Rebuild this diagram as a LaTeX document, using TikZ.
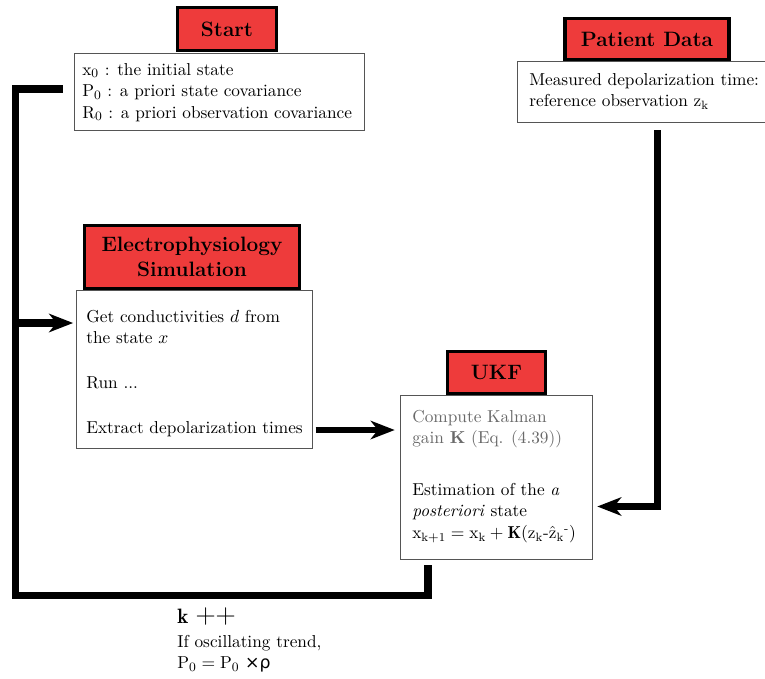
\documentclass[tikz,border=0pt]{standalone}
\usepackage{amsmath}
\usepackage{fontspec}
\newfontfamily\dejavu{DejaVu Sans}
\usetikzlibrary{arrows.meta,fit,calc}
\definecolor{boxred}{RGB}{238,59,59}
\definecolor{boxline}{RGB}{85,85,85}
\definecolor{kalgray}{RGB}{105,105,105}
\begin{document}
\begin{tikzpicture}[x=0.625pt,y=-0.625pt,
  redbox/.style={draw=black,line width=1.9pt,fill=boxred,inner sep=0pt},
  titletext/.style={inner sep=0pt,anchor=center,align=center,
    font=\fontsize{13pt}{15.6pt}\selectfont\bfseries},
  infobox/.style={draw=boxline,line width=0.6pt,fill=white,inner sep=0pt},
  bodytext/.style={inner sep=0pt,anchor=north west,align=left,
    font=\fontsize{10.8pt}{13.4pt}\selectfont},
  flow/.style={line width=4.4pt,line join=miter},
  flowarrow/.style={flow,-{Stealth[length=15pt,width=11.5pt,inset=4.5pt]}},
  ]
\useasboundingbox (0,0) rectangle (765,678);

% Start
\node[infobox,fit={(74,53)(364,130)}] (startinfo) {};
\node[redbox,fit={(177.5,7.5)(276.5,50.5)}] (start) {};
\node[titletext] (startlabel) at (start.center) {Start};
\node[bodytext] (starttext) at (82,63)
  {$\mathrm{x}_0$ : the initial state\\
   $\mathrm{P}_0$ : a priori state covariance\\
   $\mathrm{R}_0$ : a priori observation covariance};

% Patient data
\node[infobox,fit={(517,61)(772,122)}] (patinfo) {};
\node[redbox,fit={(565,18.5)(729,59.5)}] (patient) {};
\node[titletext] (patientlabel) at (patient.center) {Patient Data};
\node[bodytext] (pattext) at (529,73)
  {Measured depolarization time:\\
   reference observation $\mathrm{z}_\mathrm{k}$};

% Electrophysiology simulation
\node[infobox,fit={(76,290)(312,448)}] (elinfo) {};
\node[redbox,fit={(84.5,225.5)(299.5,288.5)}] (elsim) {};
\node[titletext] (elsimlabel) at (elsim.center) {Electrophysiology\\Simulation};
\node[bodytext] (eltext) at (86,310)
  {Get conductivities $d$ from\\
   the state $x$\\[14.5pt]
   Run ...\\[14.5pt]
   Extract depolarization times};

% UKF
\node[infobox,fit={(400,395)(592,559)}] (ukfinfo) {};
\node[redbox,fit={(447.5,351.5)(545.5,393.5)}] (ukf) {};
\node[titletext] (ukflabel) at (ukf.center) {UKF};
\node[bodytext,text=kalgray] (ukftext1) at (412,410)
  {Compute Kalman\\
   gain \textbf{K} (Eq. (4.39))};
\node[bodytext] (ukftext2) at (412,483)
  {Estimation of the \textit{a}\\
   \textit{posteriori} state\\
   $\mathrm{x}_{\mathrm{k+1}} = \mathrm{x}_\mathrm{k} + \mathbf{K}(\mathrm{z}_\mathrm{k}\text{-}\hat{\mathrm{z}}_\mathrm{k}{}^{\text{-}})$};

% loop connector
\coordinate (loopA) at (428,565);
\coordinate (loopB) at (15.5,595.5);
\coordinate (loopEnd) at (63,89);
\coordinate (feedIn) at (15.5,323);
\draw[flow] (loopA) |- (loopB) |- (loopEnd);
\draw[flowarrow,shorten >=1.5pt] (feedIn) -- (feedIn -| elinfo.west);

% simulation -> UKF
\draw[flowarrow,line width=3.2pt,shorten <=2pt,shorten >=3pt]
  (elinfo.east |- 0,430) -- (ukfinfo.west |- 0,430);

% patient data -> UKF
\coordinate (patA) at (657.5,130);
\draw[flowarrow,shorten >=3pt] (patA) |- (ukfinfo.east |- 0,506.5);

% loop label
\node[inner sep=0pt,anchor=base west] (kinc) at (177,623)
  {{\fontsize{13pt}{15pt}\selectfont$\mathbf{k}$}\hspace{4.5pt}{\fontsize{17.5pt}{20pt}\selectfont ++}};
\node[bodytext] (oscil) at (177,635)
  {If oscillating trend,\\
   $\mathrm{P}_0 = \mathrm{P}_0$ {\dejavu ×ρ}};
\end{tikzpicture}
\end{document}
